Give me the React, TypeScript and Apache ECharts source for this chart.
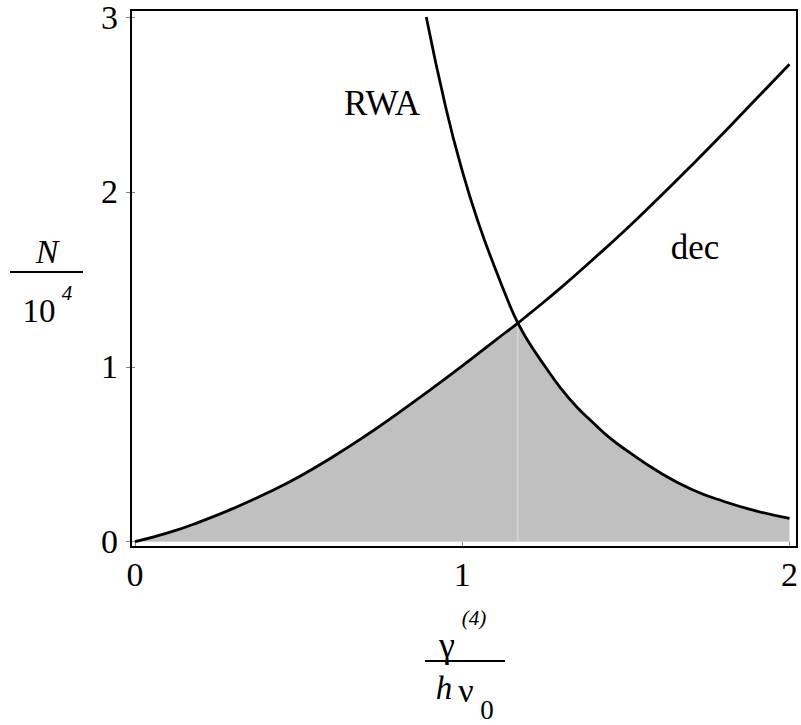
import React, { useEffect, useRef } from "react";
import * as echarts from "echarts";

// ---- data ----
const X_MIN = 0;
const X_MAX = 2;
const Y_MIN = 0;
const Y_MAX = 3;
const TICK_INTERVAL = 1;

const CROSS_X = 1.17;
const CROSS_Y = 1.25;

// "dec" curve: N/10^4 vs gamma/(h nu0)
const DEC_DATA: [number, number][] = [
  [0, 0], [0.1, 0.05], [0.2, 0.115], [0.3, 0.19], [0.4, 0.275], [0.5, 0.37],
  [0.6, 0.48], [0.7, 0.6], [0.8, 0.73], [0.9, 0.865], [1.0, 1.005], [1.1, 1.15],
  [1.17, 1.25], [1.2, 1.295], [1.3, 1.45], [1.4, 1.615], [1.5, 1.785],
  [1.6, 1.965], [1.7, 2.15], [1.8, 2.34], [1.9, 2.535], [2.0, 2.73],
];

// "RWA" curve
const RWA_DATA: [number, number][] = [
  [0.89, 3.0], [0.95, 2.48], [1.0, 2.12], [1.05, 1.82], [1.1, 1.565],
  [1.15, 1.33], [1.17, 1.25], [1.2, 1.15], [1.25, 1.01], [1.3, 0.88],
  [1.35, 0.77], [1.4, 0.68], [1.45, 0.595], [1.5, 0.525], [1.6, 0.40],
  [1.7, 0.30], [1.8, 0.23], [1.9, 0.175], [2.0, 0.133],
];

const CURVE_LABELS = ["RWA", "dec"];

const SERIF = "Liberation Serif, Times New Roman, serif";

export default function App() {
  const ref = useRef<HTMLDivElement>(null);

  useEffect(() => {
    if (!ref.current) return;
    const chart = echarts.init(ref.current, undefined, { renderer: "svg" });

    const leftFill = DEC_DATA.filter((p) => p[0] <= CROSS_X);
    const rightFill = RWA_DATA.filter((p) => p[0] >= CROSS_X);
    const seam: [number, number][] = [[CROSS_X, 0], [CROSS_X, CROSS_Y]];
    const baseEdge: [number, number][] = [[X_MIN, 0], [X_MAX, 0]];

    const areaSeries = (data: [number, number][]) => ({
      type: "line",
      data,
      symbol: "none",
      smooth: 0.5,
      lineStyle: { width: 0, color: "#c0c0c0" },
      areaStyle: { color: "#c0c0c0", opacity: 1 },
      silent: true,
    });

    const curveSeries = (name: string, data: [number, number][]) => ({
      name,
      type: "line",
      data,
      symbol: "none",
      smooth: 0.5,
      lineStyle: { width: 2.8, color: "#000" },
      silent: true,
    });

    const text = (
      t: string,
      x: number,
      y: number,
      size: number,
      italic = false,
      align = "center"
    ) => ({
      type: "text",
      style: {
        text: t,
        x,
        y,
        textAlign: align,
        textVerticalAlign: "middle",
        fontFamily: SERIF,
        fontSize: size,
        fontStyle: italic ? "italic" : "normal",
        fill: "#000",
      },
      silent: true,
    });

    const option: any = {
      animation: false,
      backgroundColor: "#fff",
      grid: { left: 135, right: 6, top: 13, bottom: 183.3, containLabel: false },
      xAxis: {
        type: "value",
        min: X_MIN,
        max: X_MAX,
        interval: TICK_INTERVAL,
        offset: 5,
        axisLine: { show: false },
        axisTick: { show: true, length: 6, lineStyle: { color: "#808080", width: 1 } },
        splitLine: { show: false },
        axisLabel: {
          margin: 11,
          fontFamily: SERIF,
          fontSize: 34,
          color: "#000",
        },
      },
      yAxis: {
        type: "value",
        min: Y_MIN,
        max: Y_MAX,
        interval: TICK_INTERVAL,
        offset: 4,
        axisLine: { show: false },
        axisTick: { show: true, length: 9, lineStyle: { color: "#808080", width: 1 } },
        splitLine: { show: false },
        axisLabel: {
          margin: 13,
          fontFamily: SERIF,
          fontSize: 34,
          color: "#000",
        },
      },
      series: [
        areaSeries(leftFill),
        areaSeries(rightFill),
        {
          type: "line",
          data: seam,
          symbol: "none",
          lineStyle: { width: 1, color: "#dcdcdc" },
          silent: true,
        },
        {
          type: "line",
          data: baseEdge,
          symbol: "none",
          lineStyle: { width: 1, color: "#d6d6d6" },
          silent: true,
        },
        curveSeries("dec", DEC_DATA),
        curveSeries("RWA", RWA_DATA),
      ],
      graphic: [
        {
          type: "rect",
          shape: { x: 131, y: 10, width: 666, height: 537 },
          style: { fill: "none", stroke: "#000", lineWidth: 2 },
          z: 100,
          silent: true,
        },
        // curve labels
        text(CURVE_LABELS[0], 382, 103, 35),
        text(CURVE_LABELS[1], 695, 247, 35),
        // y-axis title: N / 10^4
        text("N", 47, 251, 34, true),
        {
          type: "line",
          shape: { x1: 10, y1: 272, x2: 83, y2: 272 },
          style: { stroke: "#000", lineWidth: 2 },
          silent: true,
        },
        text("10", 39, 311, 33),
        text("4", 67, 293, 21, true),
        // x-axis title: gamma^(4) / (h nu_0)
        text("γ", 447, 645, 36),
        text("(4)", 474, 618, 21, true),
        {
          type: "line",
          shape: { x1: 425, y1: 661, x2: 505, y2: 661 },
          style: { stroke: "#000", lineWidth: 2 },
          silent: true,
        },
        text("h", 444, 688, 33, true),
        text("ν", 466, 690, 34),
        text("0", 487, 710, 27),
      ],
    };

    chart.setOption(option);
    return () => chart.dispose();
  }, []);

  return (
    <div
      ref={ref}
      style={{ position: "absolute", left: 0, top: 0, width: 801, height: 725, background: "#fff" }}
    />
  );
}
